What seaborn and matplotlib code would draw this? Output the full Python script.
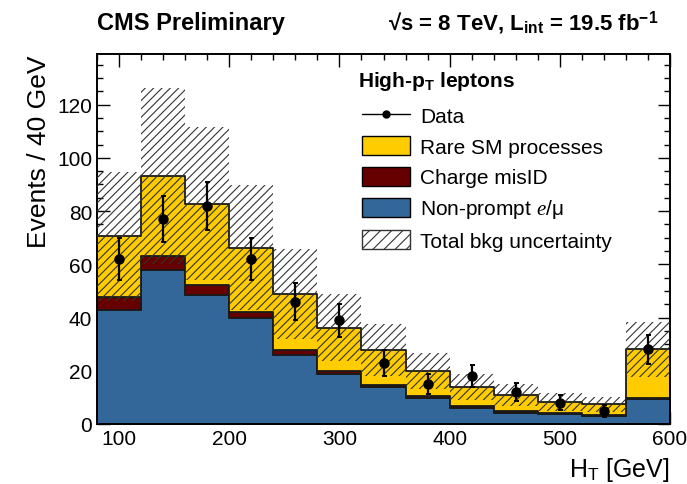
import numpy as np
import pandas as pd
import seaborn as sns
import matplotlib
matplotlib.use("Agg")
import matplotlib.pyplot as plt
from matplotlib.lines import Line2D
from matplotlib.patches import Patch
from matplotlib.ticker import MultipleLocator

# ---------------- data ----------------
bin_edges = [80, 120, 160, 200, 240, 280, 320, 360, 400, 440, 480, 520, 560, 600]
nonprompt = [42.8, 58.0, 48.6, 39.9, 25.8, 18.9, 13.9, 9.9, 6.1, 4.3, 3.6, 3.0, 9.3]
charge_misid = [5.0, 5.0, 3.7, 2.3, 1.9, 1.0, 0.7, 0.6, 0.7, 0.4, 0.4, 0.3, 0.6]
rare_sm = [22.7, 30.1, 30.5, 24.0, 21.0, 16.3, 13.2, 9.4, 7.1, 6.2, 4.4, 4.1, 18.1]
bkg_unc = [24.2, 33.1, 28.8, 23.5, 16.9, 12.5, 9.6, 6.9, 4.7, 4.0, 3.4, 2.9, 10.3]
data_counts = [62, 77, 82, 62, 46, 39, 23, 15, 18, 12, 8, 5, 28]
data_err = [7.9, 8.8, 9.1, 7.9, 6.8, 6.2, 4.8, 3.9, 4.2, 3.5, 2.8, 2.2, 5.3]

labels = ["Rare SM processes", "Charge misID", "Non-prompt $e/\\mathrm{\\mu}$"]
colors = ["#FFCC00", "#660000", "#336699"]

sns.set_style("ticks")
plt.rcParams["font.family"] = ["Liberation Sans", "DejaVu Sans"]
plt.rcParams["mathtext.fontset"] = "custom"
plt.rcParams["mathtext.rm"] = "Liberation Sans"
plt.rcParams["mathtext.bf"] = "Liberation Sans:bold"
plt.rcParams["mathtext.it"] = "Liberation Serif:italic"
plt.rcParams["hatch.linewidth"] = 0.8
for k in ["text.color", "axes.labelcolor", "xtick.color", "ytick.color",
          "axes.edgecolor"]:
    plt.rcParams[k] = "black"

edges = np.array(bin_edges, dtype=float)
centers = 0.5 * (edges[:-1] + edges[1:])
n = len(centers)

df = pd.DataFrame({
    "ht": np.tile(centers, 3),
    "w": np.concatenate([rare_sm, charge_misid, nonprompt]),
    "proc": np.repeat(labels, n),
})

W, H = 687, 485
fig = plt.figure(figsize=(W / 100, H / 100), dpi=100)
ax = fig.add_axes([97 / W, 1 - 425 / H, (670 - 97) / W, (425 - 55) / H])

sns.histplot(data=df, x="ht", weights="w", hue="proc", hue_order=labels,
             multiple="stack", bins=list(bin_edges), element="step", fill=True,
             palette=colors, alpha=1, linewidth=1.3, edgecolor="#1a1a1a",
             legend=False, ax=ax)

total = np.array(nonprompt) + np.array(charge_misid) + np.array(rare_sm)
unc = np.array(bkg_unc)
ax.stairs(total + unc, edges, baseline=total - unc, fill=True, hatch="////",
          facecolor="none", edgecolor="#333333", linewidth=0, zorder=5)

ax.errorbar(centers, data_counts, yerr=data_err, fmt="o", color="black",
            ms=6.5, elinewidth=1.6, capsize=1.8, capthick=1.4, zorder=10)

ax.set_xlim(80, 600)
ax.set_ylim(0, 139)
ax.xaxis.set_major_locator(MultipleLocator(100))
ax.xaxis.set_minor_locator(MultipleLocator(20))
ax.yaxis.set_major_locator(MultipleLocator(20))
ax.yaxis.set_minor_locator(MultipleLocator(5))
ax.tick_params(which="both", direction="in", top=True, right=True, width=1.0,
               labelsize=15, colors="black")
ax.tick_params(which="major", length=9)
ax.tick_params(which="minor", length=4.5)
for s in ax.spines.values():
    s.set_linewidth(1.4)
    s.set_color("black")

ax.set_xlabel("H$_\\mathrm{T}$ [GeV]", fontsize=18, loc="right")
ax.set_ylabel("Events / 40 GeV", fontsize=19, loc="top")
ax.xaxis.set_label_coords(1.0, -0.085)

fig.text(97 / W, 1 - 30 / H, "CMS Preliminary", fontsize=17, fontweight="bold",
         ha="left", va="baseline")
fig.text(658 / W, 1 - 30 / H,
         "√s = 8 TeV, L$_\\mathbf{int}$ = 19.5 fb$^\\mathbf{-1}$",
         fontsize=16, fontweight="bold", ha="right", va="baseline")

fig.text(358 / W, 1 - 87 / H, "High-p$_\\mathbf{T}$ leptons", fontsize=15,
         fontweight="bold", ha="left", va="baseline")

handles = [
    Line2D([], [], color="black", marker="o", ms=5, lw=1.0),
    Patch(facecolor=colors[0], edgecolor="black", lw=1.0),
    Patch(facecolor=colors[1], edgecolor="black", lw=1.0),
    Patch(facecolor=colors[2], edgecolor="black", lw=1.0),
    Patch(facecolor="white", edgecolor="#333333", hatch="///", lw=1.0),
]
leg_labels = ["Data"] + labels + ["Total bkg uncertainty"]
leg = ax.legend(handles, leg_labels,
                fontsize=15, frameon=False, loc="upper left",
                bbox_to_anchor=(362 / W, 1 - 107 / H),
                bbox_transform=fig.transFigure, borderaxespad=0, borderpad=0,
                handlelength=2.3, handleheight=1.0, labelspacing=0.48,
                handletextpad=0.5, alignment="left")

fig.savefig("out.png", dpi=100)
